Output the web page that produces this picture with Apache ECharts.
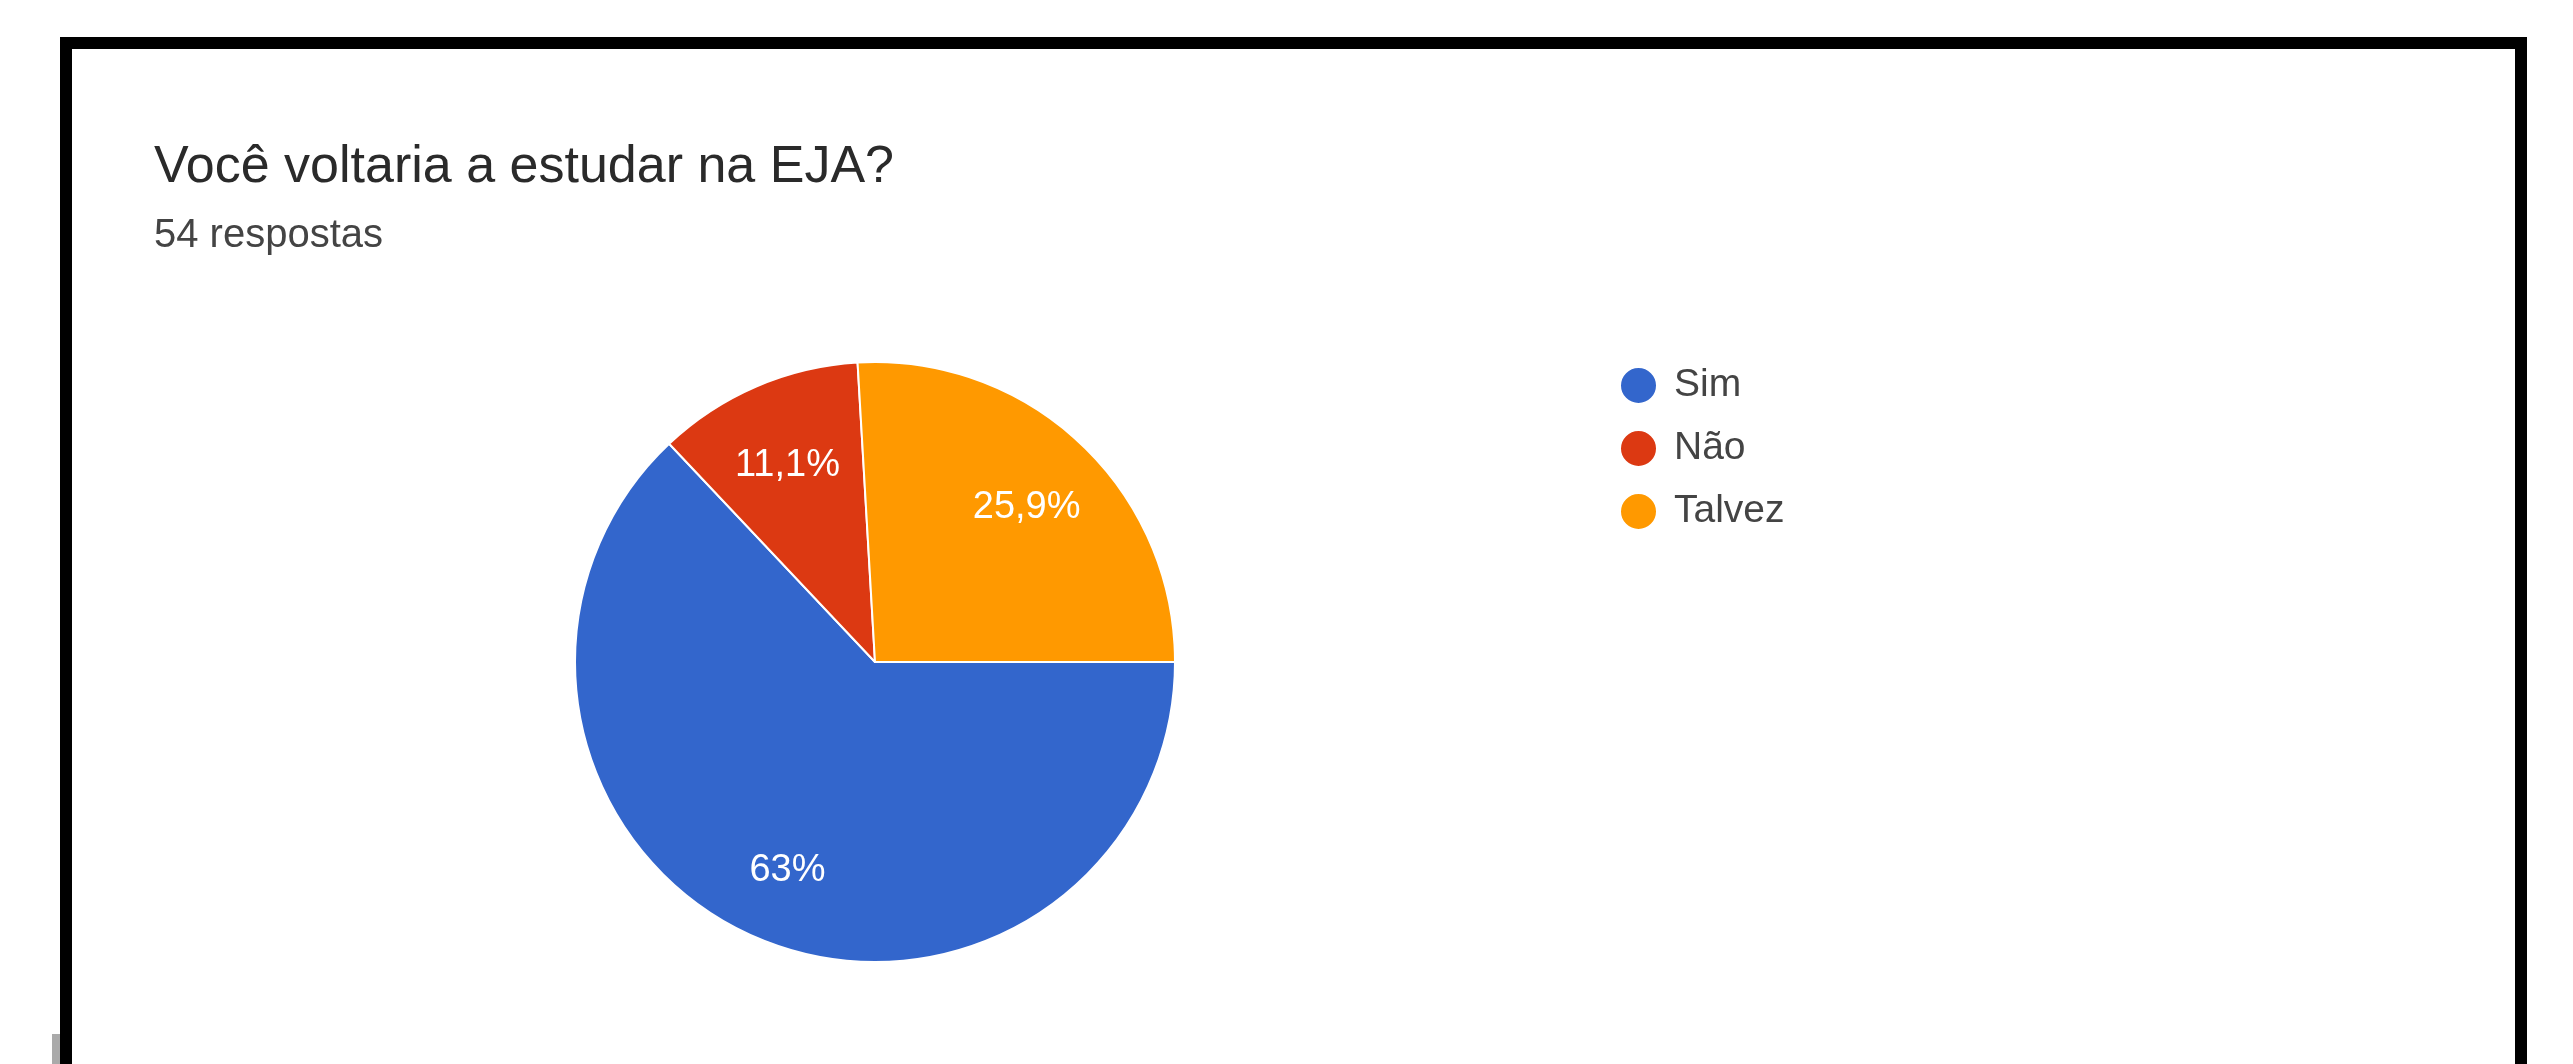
<!DOCTYPE html>
<html>
<head>
<meta charset="utf-8">
<script src="https://cdn.jsdelivr.net/npm/echarts@6/dist/echarts.min.js"></script>
<style>
  html, body { margin: 0; padding: 0; background: #fff; width: 2573px; height: 1064px; overflow: hidden; }
  #chart { position: absolute; left: 0; top: 0; width: 2573px; height: 1064px; }
  #frame { position: absolute; left: 60px; top: 37px; width: 2443px; height: 1100px; border: 12px solid #000; pointer-events: none; }
  #stub { position: absolute; left: 52px; top: 1034px; width: 8px; height: 30px; background: #aaa; }
</style>
</head>
<body>
<div id="chart"></div>
<div id="frame"></div>
<div id="stub"></div>
<script>
const titleText = 'Você voltaria a estudar na EJA?';
const subtitleText = '54 respostas';
const categories = ['Sim', 'Não', 'Talvez'];
const counts = [34, 6, 14];
const colors = ['#3366cc', '#dc3912', '#ff9900'];

const total = counts.reduce((a, b) => a + b, 0);
function pctLabel(v) {
  const p = Math.round(v / total * 1000) / 10;
  return String(p).replace('.', ',') + '%';
}
const pieData = categories.map((name, i) => ({ name: name, value: counts[i], itemStyle: { color: colors[i] } }));

const chart = echarts.init(document.getElementById('chart'));
chart.setOption({
  animation: false,
  title: {
    text: titleText,
    subtext: subtitleText,
    left: 149,
    top: 137,
    itemGap: 22,
    textStyle: { fontFamily: 'Arial, Liberation Sans', fontSize: 52, fontWeight: 'normal', color: '#2a2a2a' },
    subtextStyle: { fontFamily: 'Arial, Liberation Sans', fontSize: 40, color: '#444' }
  },
  legend: {
    data: categories,
    orient: 'vertical',
    left: 1614,
    top: 361,
    icon: 'circle',
    itemWidth: 37,
    itemHeight: 37,
    itemGap: 24,
    textStyle: { fontFamily: 'Arial, Liberation Sans', fontSize: 39, color: '#444', padding: [0, 0, 0, 12] }
  },
  series: [
    {
      type: 'pie',
      center: [875, 662],
      radius: 300,
      startAngle: 0,
      clockwise: true,
      label: { show: false },
      labelLine: { show: false },
      emphasis: { disabled: true },
      itemStyle: { borderColor: '#fff', borderWidth: 2 },
      data: pieData
    },
    {
      type: 'pie',
      center: [875, 668],
      radius: [136, 300],
      startAngle: 0,
      clockwise: true,
      silent: true,
      emphasis: { disabled: true },
      itemStyle: { color: 'rgba(0,0,0,0)', borderWidth: 0 },
      labelLine: { show: false },
      label: {
        show: true,
        position: 'inside',
        color: '#fff',
        fontFamily: 'Arial, Liberation Sans',
        fontSize: 38,
        formatter: p => pctLabel(p.value)
      },
      data: categories.map((name, i) => ({ name: name, value: counts[i] }))
    }
  ]
});
</script>
</body>
</html>
